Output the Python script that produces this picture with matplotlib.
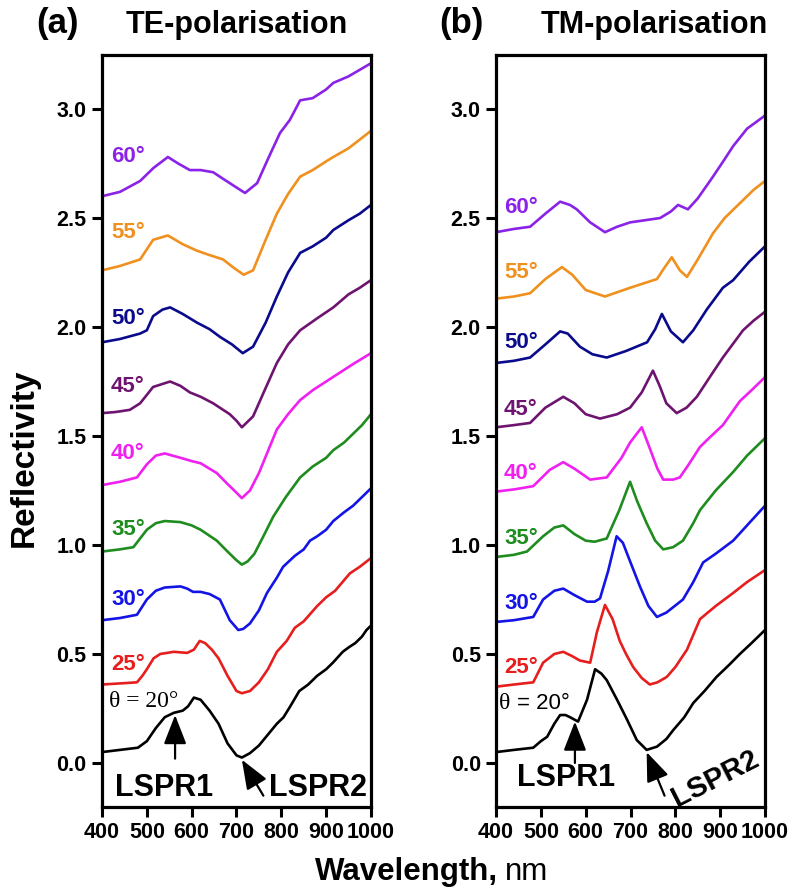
import matplotlib
matplotlib.use("Agg")
import matplotlib.pyplot as plt

plt.rcParams['font.family'] = ['Liberation Sans', 'DejaVu Sans']

# ---- TE polarisation ----
te_20_wl = [400, 440, 480, 500, 520, 540, 560, 580, 592, 605, 620, 640, 660, 680, 700, 712, 730, 750, 770, 790,
            805, 820, 840, 860, 880, 900, 915, 937, 950, 965, 980, 990, 1000]
te_20_r = [0.05, 0.06, 0.07, 0.10, 0.16, 0.21, 0.23, 0.24, 0.26, 0.30, 0.29, 0.24, 0.18, 0.09, 0.035, 0.025, 0.045,
           0.08, 0.13, 0.18, 0.21, 0.26, 0.33, 0.36, 0.40, 0.43, 0.46, 0.51, 0.53, 0.55, 0.58, 0.61, 0.63]
te_25_wl = [400, 440, 478, 490, 500, 515, 530, 560, 590, 605, 618, 630, 645, 660, 680, 700, 712, 730, 750, 770, 790,
            812, 830, 850, 880, 900, 920, 953, 975, 1000]
te_25_r = [0.36, 0.365, 0.37, 0.40, 0.43, 0.48, 0.50, 0.51, 0.505, 0.52, 0.56, 0.55, 0.52, 0.48, 0.40, 0.33, 0.32,
           0.33, 0.37, 0.43, 0.51, 0.56, 0.62, 0.65, 0.72, 0.76, 0.79, 0.87, 0.90, 0.94]
te_30_wl = [400, 440, 478, 500, 520, 540, 575, 590, 603, 620, 640, 663, 685, 704, 715, 730, 750, 768, 790, 804, 830,
            850, 864, 880, 900, 916, 940, 960, 980, 1000]
te_30_r = [0.655, 0.665, 0.68, 0.75, 0.79, 0.805, 0.81, 0.80, 0.785, 0.785, 0.775, 0.75, 0.655, 0.61, 0.615, 0.64,
           0.70, 0.78, 0.85, 0.90, 0.95, 0.98, 1.02, 1.04, 1.07, 1.11, 1.15, 1.18, 1.22, 1.26]
te_35_wl = [400, 440, 470, 500, 520, 540, 575, 600, 620, 656, 680, 700, 712, 725, 740, 760, 782, 810, 842, 870, 900,
            916, 940, 960, 980, 1000]
te_35_r = [0.97, 0.98, 0.99, 1.07, 1.10, 1.11, 1.105, 1.09, 1.07, 1.02, 0.97, 0.93, 0.91, 0.925, 0.96, 1.04, 1.13,
           1.22, 1.31, 1.36, 1.40, 1.435, 1.47, 1.51, 1.55, 1.60]
te_40_wl = [400, 440, 478, 500, 520, 540, 575, 600, 620, 656, 680, 700, 712, 730, 750, 770, 790, 815, 842, 870, 900,
            930, 960, 1000]
te_40_r = [1.275, 1.29, 1.31, 1.37, 1.41, 1.42, 1.40, 1.385, 1.375, 1.33, 1.28, 1.24, 1.215, 1.25, 1.33, 1.43, 1.53,
           1.60, 1.665, 1.71, 1.75, 1.79, 1.83, 1.88]
te_45_wl = [400, 430, 462, 485, 514, 552, 575, 596, 620, 648, 685, 700, 712, 737, 765, 790, 815, 842, 880, 916, 950,
            975, 1000]
te_45_r = [1.605, 1.61, 1.62, 1.65, 1.725, 1.75, 1.73, 1.70, 1.68, 1.65, 1.60, 1.57, 1.54, 1.59, 1.72, 1.835, 1.92,
           1.985, 2.04, 2.09, 2.15, 2.18, 2.215]
te_50_wl = [400, 440, 485, 500, 514, 535, 552, 580, 612, 640, 663, 690, 714, 737, 765, 790, 815, 842, 870, 900, 916,
            950, 975, 1000]
te_50_r = [1.93, 1.945, 1.97, 1.985, 2.05, 2.08, 2.09, 2.06, 2.02, 1.99, 1.955, 1.92, 1.88, 1.91, 2.02, 2.14, 2.25,
           2.34, 2.37, 2.41, 2.445, 2.49, 2.52, 2.56]
te_55_wl = [400, 440, 485, 514, 547, 580, 612, 640, 670, 695, 716, 737, 765, 790, 815, 842, 870, 900, 916, 950, 975,
            1000]
te_55_r = [2.26, 2.28, 2.31, 2.40, 2.42, 2.38, 2.35, 2.33, 2.31, 2.27, 2.24, 2.26, 2.40, 2.52, 2.61, 2.69, 2.72,
           2.76, 2.78, 2.82, 2.86, 2.90]
te_60_wl = [400, 440, 485, 515, 547, 570, 596, 620, 648, 670, 685, 719, 746, 770, 797, 819, 842, 870, 900, 916, 950,
            975, 1000]
te_60_r = [2.60, 2.62, 2.67, 2.73, 2.78, 2.75, 2.72, 2.72, 2.71, 2.68, 2.66, 2.615, 2.66, 2.77, 2.89, 2.95, 3.04,
           3.05, 3.09, 3.12, 3.15, 3.18, 3.21]

# ---- TM polarisation ----
tm_20_wl = [400, 440, 483, 500, 514, 530, 543, 555, 565, 583, 603, 621, 635, 647, 670, 692, 714, 736, 759, 780, 795,
            820, 840, 865, 892, 920, 944, 970, 1000]
tm_20_r = [0.05, 0.06, 0.07, 0.10, 0.12, 0.18, 0.22, 0.22, 0.21, 0.19, 0.29, 0.43, 0.41, 0.38, 0.29, 0.20, 0.105,
           0.06, 0.075, 0.11, 0.15, 0.21, 0.275, 0.33, 0.395, 0.45, 0.50, 0.55, 0.61]
tm_25_wl = [400, 440, 483, 505, 530, 550, 570, 587, 610, 625, 643, 660, 676, 690, 706, 725, 743, 760, 781, 800, 826,
            855, 890, 929, 960, 1000]
tm_25_r = [0.35, 0.36, 0.37, 0.46, 0.50, 0.51, 0.49, 0.47, 0.46, 0.60, 0.725, 0.66, 0.56, 0.50, 0.44, 0.39, 0.36,
           0.37, 0.395, 0.44, 0.52, 0.66, 0.72, 0.78, 0.83, 0.885]
tm_30_wl = [400, 440, 483, 505, 530, 550, 575, 603, 620, 632, 650, 669, 683, 700, 721, 740, 759, 780, 817, 840, 862,
            890, 929, 960, 1000]
tm_30_r = [0.647, 0.655, 0.67, 0.75, 0.79, 0.80, 0.77, 0.74, 0.74, 0.755, 0.88, 1.04, 1.01, 0.92, 0.81, 0.72, 0.67,
           0.69, 0.75, 0.83, 0.92, 0.96, 1.02, 1.09, 1.18]
tm_35_wl = [400, 440, 469, 505, 530, 550, 575, 600, 620, 647, 675, 699, 715, 736, 755, 773, 795, 817, 840, 855, 890,
            929, 960, 1000]
tm_35_r = [0.945, 0.955, 0.97, 1.04, 1.08, 1.09, 1.05, 1.02, 1.015, 1.03, 1.16, 1.29, 1.20, 1.10, 1.02, 0.98, 0.99,
           1.02, 1.10, 1.16, 1.25, 1.335, 1.41, 1.49]
tm_40_wl = [400, 440, 483, 520, 550, 575, 610, 647, 680, 699, 725, 740, 760, 773, 795, 810, 830, 855, 880, 906, 944,
            970, 1000]
tm_40_r = [1.245, 1.255, 1.27, 1.345, 1.38, 1.35, 1.30, 1.31, 1.40, 1.47, 1.54, 1.46, 1.35, 1.30, 1.30, 1.31, 1.37,
           1.45, 1.50, 1.55, 1.66, 1.71, 1.77]
tm_45_wl = [400, 440, 476, 510, 550, 575, 600, 632, 670, 699, 725, 750, 765, 780, 803, 825, 848, 880, 906, 951, 975,
            1000]
tm_45_r = [1.54, 1.55, 1.56, 1.63, 1.68, 1.65, 1.60, 1.58, 1.60, 1.63, 1.70, 1.80, 1.73, 1.65, 1.605, 1.63, 1.68,
           1.78, 1.86, 1.985, 2.03, 2.07]
tm_50_wl = [400, 440, 476, 510, 543, 560, 587, 615, 647, 690, 737, 755, 770, 790, 817, 840, 870, 906, 929, 965, 1000]
tm_50_r = [1.835, 1.845, 1.86, 1.92, 1.98, 1.97, 1.91, 1.875, 1.86, 1.89, 1.93, 1.99, 2.06, 1.98, 1.93, 1.985, 2.08,
           2.18, 2.215, 2.30, 2.37]
tm_55_wl = [400, 440, 476, 510, 547, 570, 600, 643, 699, 759, 775, 792, 810, 826, 850, 884, 910, 950, 975, 1000]
tm_55_r = [2.13, 2.14, 2.155, 2.22, 2.275, 2.24, 2.17, 2.14, 2.18, 2.22, 2.27, 2.32, 2.26, 2.23, 2.31, 2.43, 2.50,
           2.58, 2.63, 2.67]
tm_60_wl = [400, 440, 476, 510, 543, 565, 580, 610, 643, 670, 699, 766, 790, 806, 828, 850, 884, 910, 929, 960, 1000]
tm_60_r = [2.435, 2.45, 2.46, 2.52, 2.575, 2.56, 2.54, 2.48, 2.435, 2.46, 2.48, 2.50, 2.53, 2.56, 2.54, 2.59, 2.69,
           2.77, 2.83, 2.91, 2.97]

angles = ['25°', '30°', '35°', '40°', '45°', '50°', '55°', '60°']
colors = ['black', '#e61e1e', '#1414e6', '#1e8c1e', '#f020f0', '#6e1470', '#0a0a8c', '#f0901e', '#8b22e8']
te_label_y = [0.45, 0.75, 1.07, 1.42, 1.725, 2.04, 2.435, 2.78]
tm_label_y = [0.44, 0.73, 1.03, 1.33, 1.62, 1.93, 2.25, 2.55]

te_curves = [(te_20_wl, te_20_r), (te_25_wl, te_25_r), (te_30_wl, te_30_r), (te_35_wl, te_35_r),
             (te_40_wl, te_40_r), (te_45_wl, te_45_r), (te_50_wl, te_50_r), (te_55_wl, te_55_r),
             (te_60_wl, te_60_r)]
tm_curves = [(tm_20_wl, tm_20_r), (tm_25_wl, tm_25_r), (tm_30_wl, tm_30_r), (tm_35_wl, tm_35_r),
             (tm_40_wl, tm_40_r), (tm_45_wl, tm_45_r), (tm_50_wl, tm_50_r), (tm_55_wl, tm_55_r),
             (tm_60_wl, tm_60_r)]

fig = plt.figure(figsize=(7.92, 8.94), dpi=100)
ax_te = fig.add_axes([0.1288, 0.0973, 0.3396, 0.8412])
ax_tm = fig.add_axes([0.6263, 0.0973, 0.3396, 0.8412])


def setup(ax):
    ax.set_xlim(400, 1000)
    ax.set_ylim(-0.202, 3.248)
    ax.set_xticks(range(400, 1001, 100))
    ax.set_yticks([0.0, 0.5, 1.0, 1.5, 2.0, 2.5, 3.0])
    ax.set_yticklabels(['0.0', '0.5', '1.0', '1.5', '2.0', '2.5', '3.0'])
    for s in ax.spines.values():
        s.set_linewidth(2.3)
    ax.tick_params(direction='out', length=7, width=2.2, labelsize=15.5, pad=4)
    for lab in ax.get_xticklabels() + ax.get_yticklabels():
        lab.set_fontweight('bold')


arrow_kw = dict(arrowstyle='-|>,head_length=1.8,head_width=0.7', color='black', lw=1.6,
                shrinkA=0, shrinkB=0, mutation_scale=10)

for ax, curves, label_y, lx in [(ax_te, te_curves, te_label_y, 420), (ax_tm, tm_curves, tm_label_y, 418)]:
    setup(ax)
    for (wl, r), c in zip(curves, colors):
        ax.plot(wl, r, color=c, lw=1.9)
    for name, y, c in zip(angles, label_y, colors[1:]):
        ax.text(lx, y, name, color=c, fontsize=16, fontweight='bold', va='center', ha='left')

# theta labels
ax_te.text(416, 0.28, 'θ = 20°', family=['Liberation Serif', 'DejaVu Serif'], fontsize=17, va='center', ha='left')
ax_tm.text(407, 0.275, 'θ', family=['Liberation Serif', 'DejaVu Serif'], fontsize=17, va='center', ha='left')
ax_tm.text(446, 0.275, '= 20°', fontsize=16, va='center', ha='left')

# LSPR annotations
ax_te.text(538, -0.115, 'LSPR1', fontsize=22, fontweight='bold', ha='center', va='center')
ax_te.annotate('', xy=(563, 0.22), xytext=(563, 0.02), arrowprops=arrow_kw)
ax_te.text(882, -0.115, 'LSPR2', fontsize=22, fontweight='bold', ha='center', va='center')
ax_te.annotate('', xy=(712, 0.015), xytext=(760, -0.15), arrowprops=arrow_kw)

ax_tm.text(556, -0.07, 'LSPR1', fontsize=22, fontweight='bold', ha='center', va='center')
ax_tm.annotate('', xy=(576, 0.19), xytext=(576, 0.0), arrowprops=arrow_kw)
ax_tm.text(889, -0.07, 'LSPR2', fontsize=21, fontweight='bold', ha='center', va='center', rotation=27)
ax_tm.annotate('', xy=(736, 0.05), xytext=(776, -0.15), arrowprops=arrow_kw)

# panel titles
fig.text(0.073, 0.963, '(a)', fontsize=25, fontweight='bold', ha='center', va='baseline')
fig.text(0.158, 0.963, 'TE-polarisation', fontsize=22, fontweight='bold', ha='left', va='baseline')
fig.text(0.582, 0.963, '(b)', fontsize=25, fontweight='bold', ha='center', va='baseline')
fig.text(0.682, 0.963, 'TM-polarisation', fontsize=22, fontweight='bold', ha='left', va='baseline')

# axis labels
fig.text(0.030, 0.488, 'Reflectivity', fontsize=24, fontweight='bold', rotation=90, ha='center', va='center')
wl_txt = fig.text(0.398, 0.0157, 'Wavelength,', fontsize=22.5, fontweight='bold', ha='left', va='baseline')
fig.canvas.draw()
bb = wl_txt.get_window_extent().transformed(fig.transFigure.inverted())
fig.text(bb.x1 + 0.008, 0.0157, 'nm', fontsize=22.5, ha='left', va='baseline')

fig.savefig('out.png', dpi=100)
